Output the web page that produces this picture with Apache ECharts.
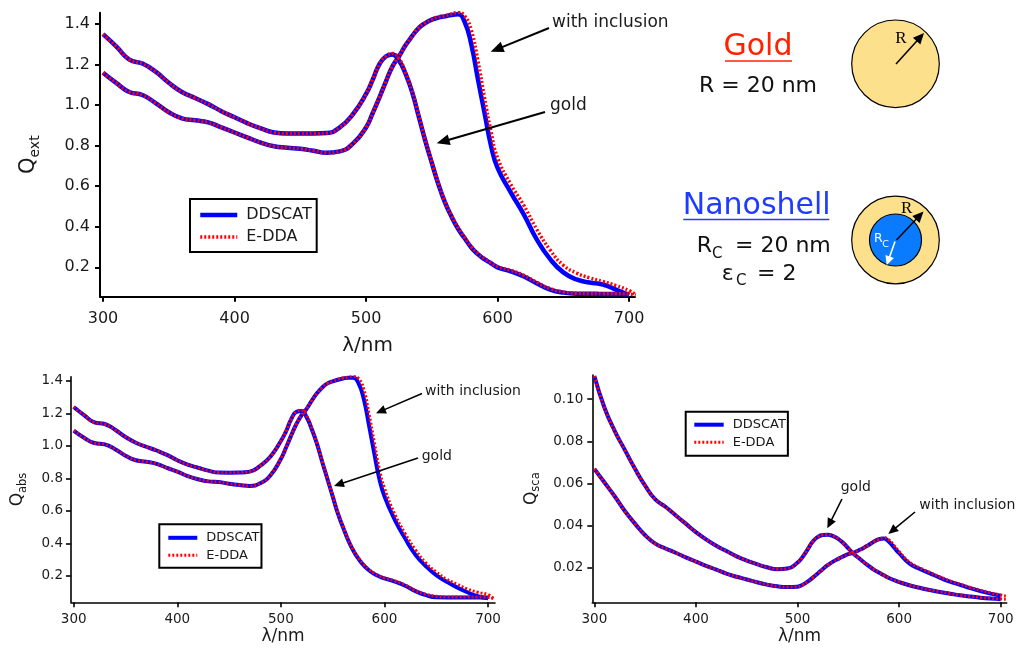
<!DOCTYPE html>
<html>
<head>
<meta charset="utf-8">
<script src="https://cdn.jsdelivr.net/npm/echarts@6.0.0/dist/echarts.min.js"></script>
<style>
html,body{margin:0;padding:0;background:#fff;}
#c{width:1018px;height:650px;}
</style>
</head>
<body>
<div id="c"></div>
<script>
// ---------------- DATA ----------------
const wl = [300,310,320,330,340,350,360,370,380,390,400,410,420,430,440,450,460,470,480,490,
            500,505,510,515,520,525,530,535,540,545,550,555,560,565,570,575,580,585,590,595,600,
            610,620,630,640,650,660,670,680,690,700,705];

const xTicks = [300,400,500,600,700];
const yTicksExt = [0.2,0.4,0.6,0.8,1.0,1.2,1.4];
const yTicksAbs = [0.2,0.4,0.6,0.8,1.0,1.2,1.4];
const yTicksSca = [0.02,0.04,0.06,0.08,0.10];
const legendNames = ['DDSCAT','E-DDA'];

// Q_ext
const extGoldDD = [1.35,1.29,1.225,1.205,1.165,1.11,1.065,1.035,1.005,0.97,
  0.94,0.91,0.885,0.865,0.86,0.86,0.86,0.862,0.89,0.955,
  1.055,1.125,1.2,1.24,1.25,1.22,1.155,1.065,0.945,0.825,
  0.715,0.61,0.52,0.45,0.39,0.343,0.298,0.265,0.24,0.22,0.2,
  0.18,0.155,0.12,0.09,0.075,0.07,0.07,0.068,0.068,0.068];
const extGoldED = [1.35,1.29,1.225,1.205,1.165,1.11,1.065,1.035,1.005,0.97,
  0.94,0.91,0.885,0.865,0.86,0.86,0.86,0.862,0.89,0.955,
  1.055,1.125,1.2,1.24,1.255,1.23,1.16,1.07,0.95,0.83,
  0.72,0.615,0.525,0.455,0.395,0.347,0.302,0.268,0.243,0.222,0.203,
  0.185,0.16,0.125,0.095,0.078,0.072,0.07,0.07,0.07,0.068,0.062];
const extInclDD = [1.16,1.11,1.065,1.05,1.01,0.965,0.935,0.925,0.915,0.89,
  0.865,0.84,0.815,0.797,0.79,0.785,0.775,0.765,0.772,0.81,
  0.89,0.96,1.035,1.115,1.19,1.24,1.295,1.34,1.38,1.405,
  1.422,1.432,1.438,1.445,1.448,1.41,1.3,1.13,0.965,0.8,0.69,
  0.57,0.46,0.335,0.24,0.175,0.14,0.125,0.115,0.09,0.062];
const extInclED = [1.16,1.11,1.065,1.05,1.01,0.965,0.935,0.925,0.915,0.89,
  0.865,0.84,0.815,0.797,0.79,0.785,0.775,0.765,0.772,0.81,
  0.89,0.96,1.035,1.115,1.19,1.24,1.295,1.34,1.38,1.405,
  1.422,1.435,1.44,1.45,1.458,1.44,1.37,1.22,1.04,0.87,0.74,
  0.61,0.505,0.385,0.285,0.21,0.172,0.148,0.13,0.11,0.085,0.065];

// Q_abs
const absGoldDD = [1.24,1.19,1.145,1.135,1.1,1.055,1.02,0.995,0.972,0.945,
  0.912,0.885,0.866,0.848,0.836,0.835,0.836,0.842,0.878,0.935,
  1.03,1.09,1.165,1.21,1.215,1.175,1.1,1.01,0.9,0.795,
  0.69,0.585,0.5,0.42,0.355,0.305,0.265,0.235,0.213,0.197,0.185,
  0.165,0.14,0.107,0.082,0.069,0.068,0.068,0.068,0.068,0.068];
const absGoldED = [1.24,1.19,1.145,1.135,1.1,1.055,1.02,0.995,0.972,0.945,
  0.912,0.885,0.866,0.848,0.836,0.835,0.836,0.842,0.878,0.935,
  1.03,1.09,1.165,1.21,1.22,1.185,1.105,1.015,0.905,0.8,
  0.695,0.59,0.505,0.425,0.36,0.31,0.27,0.24,0.217,0.2,0.188,
  0.17,0.145,0.11,0.088,0.075,0.07,0.07,0.07,0.07,0.068,0.06];
const absInclDD = [1.094,1.05,1.018,1.01,0.98,0.94,0.912,0.903,0.89,0.865,
  0.842,0.815,0.795,0.782,0.778,0.768,0.76,0.754,0.77,0.82,
  0.92,0.99,1.065,1.135,1.19,1.23,1.28,1.325,1.36,1.385,
  1.397,1.407,1.415,1.42,1.42,1.385,1.29,1.13,0.96,0.8,0.69,
  0.545,0.43,0.33,0.26,0.205,0.165,0.13,0.1,0.075,0.063];
const absInclED = [1.094,1.05,1.018,1.01,0.98,0.94,0.912,0.903,0.89,0.865,
  0.842,0.815,0.795,0.782,0.778,0.768,0.76,0.754,0.77,0.82,
  0.92,0.99,1.065,1.135,1.19,1.23,1.28,1.325,1.36,1.385,
  1.397,1.41,1.418,1.423,1.428,1.415,1.35,1.2,1.03,0.86,0.74,
  0.58,0.46,0.36,0.28,0.225,0.18,0.15,0.12,0.1,0.085,0.062];

// Q_sca
const scaGoldDD = [0.111,0.096,0.085,0.076,0.067,0.059,0.0525,0.049,0.045,0.041,
  0.037,0.0335,0.0305,0.028,0.0255,0.0235,0.0218,0.0203,0.0194,0.0197,
  0.0225,0.0252,0.0288,0.0325,0.0347,0.0356,0.0357,0.0351,0.0338,0.0318,
  0.0293,0.0268,0.0248,0.0228,0.021,0.0192,0.0178,0.0165,0.0152,0.0142,0.0133,
  0.0118,0.0106,0.0095,0.0086,0.0078,0.007,0.0064,0.0059,0.0055,0.0052];
const scaGoldED = [0.111,0.096,0.085,0.076,0.067,0.059,0.0525,0.049,0.045,0.041,
  0.037,0.0335,0.0305,0.028,0.0255,0.0235,0.0218,0.0203,0.0194,0.0197,
  0.0225,0.0252,0.0288,0.0325,0.0347,0.0357,0.0358,0.0352,0.0339,0.0319,
  0.0294,0.0269,0.0249,0.0229,0.0211,0.0193,0.0179,0.0166,0.0153,0.0143,0.0134,
  0.0119,0.0107,0.0096,0.0087,0.0079,0.0071,0.0065,0.006,0.0056,0.0053,0.0051];
const scaInclDD = [0.067,0.0605,0.054,0.047,0.041,0.0355,0.0315,0.0292,0.0272,0.025,
  0.023,0.021,0.0192,0.0173,0.0158,0.0145,0.0132,0.0121,0.0113,0.0109,
  0.0111,0.012,0.0135,0.0154,0.0174,0.0195,0.0214,0.023,0.0243,0.0255,
  0.0265,0.0272,0.0283,0.0295,0.0309,0.0324,0.0336,0.0339,0.0324,0.0297,0.027,
  0.0222,0.0196,0.0175,0.0154,0.0135,0.012,0.0104,0.009,0.0078,0.0068];
const scaInclED = [0.067,0.0605,0.054,0.047,0.041,0.0355,0.0315,0.0292,0.0272,0.025,
  0.023,0.021,0.0192,0.0173,0.0158,0.0145,0.0132,0.0121,0.0113,0.0109,
  0.0111,0.012,0.0135,0.0154,0.0174,0.0195,0.0214,0.023,0.0243,0.0255,
  0.0265,0.0272,0.0283,0.0295,0.0309,0.0324,0.0335,0.0343,0.0333,0.0307,0.0278,
  0.0228,0.0201,0.0179,0.0158,0.0139,0.0123,0.0108,0.0094,0.0082,0.0072,0.0066];

// ---------------- STYLE ----------------
const FF = '"DejaVu Sans", Verdana, sans-serif';
const TXT = '#1a1a1a';
const BLUE = '#0000FF', RED = '#FF0000';

function pairs(vals){ return vals.map((v,i)=>[wl[i], v]); }

function xAx(g, min, max, fs, margin, nameFs, nameGap, lw){
  return {type:'value', gridIndex:g, min:min, max:max,
    name:'λ/nm', nameLocation:'middle', nameGap:nameGap,
    nameTextStyle:{fontSize:nameFs, fontFamily:FF, color:TXT},
    axisLine:{show:true, onZero:false, lineStyle:{color:'#000', width:lw}},
    axisTick:{show:true, customValues:xTicks, length:5, lineStyle:{color:'#000', width:lw}},
    axisLabel:{customValues:xTicks, fontSize:fs, fontFamily:FF, color:TXT, margin:margin},
    splitLine:{show:false}};
}
function yAx(g, min, max, ticks, dec, fs, margin, name, rich, nameGap, lw){
  return {type:'value', gridIndex:g, min:min, max:max,
    name:name, nameLocation:'middle', nameGap:nameGap, nameRotate:90,
    nameTextStyle:{fontFamily:FF, color:TXT, rich:rich},
    axisLine:{show:true, onZero:false, lineStyle:{color:'#000', width:lw}},
    axisTick:{show:true, customValues:ticks, length:5, lineStyle:{color:'#000', width:lw}},
    axisLabel:{customValues:ticks, fontSize:fs, fontFamily:FF, color:TXT, margin:margin,
      formatter:(v)=>Number(v).toFixed(dec)},
    splitLine:{show:false}};
}
function sers(g, goldDD, inclDD, goldED, inclED, wb, wr){
  const base = {type:'line', xAxisIndex:g, yAxisIndex:g, symbol:'none', smooth:0.5, silent:true};
  const b = (d)=>Object.assign({}, base, {name:'DDSCAT', data:pairs(d), z:2,
      itemStyle:{color:BLUE}, lineStyle:{color:BLUE, width:wb}});
  const r = (d)=>Object.assign({}, base, {name:'E-DDA', data:pairs(d), z:3,
      itemStyle:{color:RED}, lineStyle:{color:RED, width:wr, type:[2,2]}});
  return [b(goldDD), b(inclDD), r(goldED), r(inclED)];
}
function leg(left, top, iw, ih, gap, pad, fs, wb, wr){
  return {orient:'vertical', left:left, top:top, itemWidth:iw, itemHeight:ih, itemGap:gap,
    padding:pad, borderColor:'#000', borderWidth:2, backgroundColor:'#fff',
    selectedMode:false,
    data:[
      {name:legendNames[0], lineStyle:{width:wb, color:BLUE}},
      {name:legendNames[1], lineStyle:{width:wr, color:RED, type:[2,2]}}
    ],
    itemStyle:{opacity:0},
    textStyle:{fontSize:fs, fontFamily:FF, color:TXT, padding:[0,0,0,4]}};
}
function arrow(x1,y1,x2,y2,color,lw,hl,hw){
  const dx=x2-x1, dy=y2-y1, L=Math.hypot(dx,dy), ux=dx/L, uy=dy/L;
  const bx=x2-ux*hl, by=y2-uy*hl, px=-uy, py=ux;
  return [
    {type:'line', z:100, shape:{x1:x1,y1:y1,x2:bx+ux*2,y2:by+uy*2}, style:{stroke:color, lineWidth:lw}},
    {type:'polygon', z:100, shape:{points:[[x2,y2],[bx+px*hw,by+py*hw],[bx-px*hw,by-py*hw]]}, style:{fill:color}}
  ];
}
function txt(x,y,s,fs,color,align,family){
  return {type:'text', z:100, x:x, y:y, style:{text:s, fontSize:fs, fontFamily:family||FF,
    fill:color||TXT, align:align||'left', verticalAlign:'middle'}};
}

const GOLDFILL = '#FDE08C';
const graphics = [].concat(
  // annotations top chart
  txt(552,23,'with inclusion',17), arrow(549,28,490.7,51.7,'#000',2,13,5.5),
  txt(550,106,'gold',17), arrow(545,112,436.7,143.3,'#000',2,13,5.5),
  // bottom-left
  txt(425,391.7,'with inclusion',14), arrow(422,393.5,376,413.3,'#000',1.6,10,4.5),
  txt(421.7,456.7,'gold',14), arrow(418,458,334,486,'#000',1.6,10,4.5),
  // bottom-right
  txt(840.7,487.7,'gold',14), arrow(842,499,827.3,528.3,'#000',1.6,10,4.5),
  txt(919.3,505,'with inclusion',14), arrow(915,512,888.3,534,'#000',1.6,10,4.5),
  // Gold panel
  txt(758,47,'Gold',30,'#FF2200','center'),
  [{type:'line', z:100, shape:{x1:725,y1:61,x2:792,y2:61}, style:{stroke:'#FF2200', lineWidth:1.7}}],
  txt(758,86,'R = 20 nm',22,'#111','center'),
  [{type:'circle', z:90, shape:{cx:895.5, cy:63.8, r:43.8}, style:{fill:GOLDFILL, stroke:'#000', lineWidth:1.2}}],
  arrow(896,64,924,33,'#000',1.5,11,5),
  txt(900.8,38.5,'R',17,'#000','center','"Liberation Serif", "DejaVu Serif", serif'),
  // Nanoshell panel
  txt(756.7,206,'Nanoshell',30,'#1E3CFF','center'),
  [{type:'line', z:100, shape:{x1:683.3,y1:219.5,x2:829.3,y2:219.5}, style:{stroke:'#1E3CFF', lineWidth:1.7}}],
  txt(696.7,246.7,'R',22,'#111'), txt(712,254.5,'C',15,'#111'), txt(735,246.7,'= 20 nm',22,'#111'),
  txt(721.7,274,'ε',22,'#111'), txt(736,281.5,'C',15,'#111'), txt(757,274,'= 2',22,'#111'),
  [{type:'circle', z:90, shape:{cx:895.5, cy:240, r:43.8}, style:{fill:GOLDFILL, stroke:'#000', lineWidth:1.2}},
   {type:'circle', z:91, shape:{cx:895.5, cy:240, r:26}, style:{fill:'#0A7BFF', stroke:'#000', lineWidth:1.2}}],
  arrow(896.5,240,923.5,211.5,'#000',1.5,11,5),
  txt(906.7,208.3,'R',17,'#000','center','"Liberation Serif", "DejaVu Serif", serif'),
  arrow(895,241.5,886.7,265,'#fff',1.6,9,4.5),
  txt(878.3,238.3,'R',12.5,'#fff','center'), txt(885.5,245,'C',9.5,'#fff','center')
);

const option = {
  animation:false,
  backgroundColor:'#fff',
  grid:[
    {left:100, top:12.7, width:535, height:284},
    {left:71, top:376.7, width:424, height:225.6},
    {left:592.3, top:375, width:414.4, height:227.3}
  ],
  xAxis:[
    xAx(0, 297.7, 704.5, 16, 14, 20, 39, 2),
    xAx(1, 297.4, 706.7, 13.5, 10, 17, 26, 1.6),
    xAx(2, 298, 705.9, 13.5, 10, 17, 26, 1.6)
  ],
  yAxis:[
    yAx(0, 0.055, 1.456, yTicksExt, 1, 16, 10, '{q|Q}{s|ext}',
        {q:{fontSize:21, fontFamily:FF, color:TXT}, s:{fontSize:14, fontFamily:FF, color:TXT, padding:[12,0,0,0]}}, 58, 2),
    yAx(1, 0.038, 1.426, yTicksAbs, 1, 13.5, 8, '{q|Q}{s|abs}',
        {q:{fontSize:17, fontFamily:FF, color:TXT}, s:{fontSize:11.5, fontFamily:FF, color:TXT, padding:[10,0,0,0]}}, 42, 1.6),
    yAx(2, 0.0037, 0.1115, yTicksSca, 2, 13.5, 9, '{q|Q}{s|sca}',
        {q:{fontSize:17, fontFamily:FF, color:TXT}, s:{fontSize:11.5, fontFamily:FF, color:TXT, padding:[10,0,0,0]}}, 50, 1.6)
  ],
  legend:[
    leg(190, 199, 37, 14, 6, [8,5,7,8], 16, 4.5, 3.5),
    leg(159.3, 524.3, 29, 12, 4.5, [7,2,6,7], 13, 4, 3),
    leg(685.7, 411.7, 29.4, 12, 4.5, [6.5,2,7,6.6], 13, 4, 3)
  ],
  series:[].concat(
    sers(0, extGoldDD, extInclDD, extGoldED, extInclED, 4.5, 3.5),
    sers(1, absGoldDD, absInclDD, absGoldED, absInclED, 4, 3),
    sers(2, scaGoldDD, scaInclDD, scaGoldED, scaInclED, 4, 3)
  ),
  graphic:{elements:graphics}
};

const chart = echarts.init(document.getElementById('c'), null, {renderer:'canvas'});
chart.setOption(option);
</script>
</body>
</html>
